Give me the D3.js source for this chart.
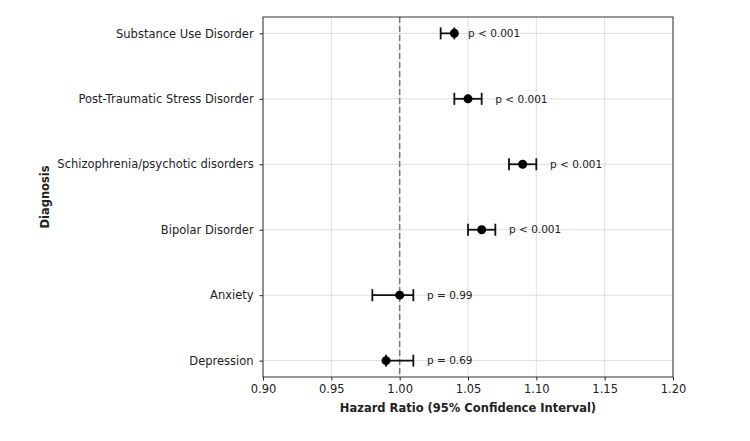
<!DOCTYPE html>
<html>
<head>
<meta charset="utf-8">
<script src="https://cdn.jsdelivr.net/npm/d3@7"></script>
<style>
  body { margin: 0; background: #fff; }
  text { font-family: "DejaVu Sans", sans-serif; fill: #222; }
</style>
</head>
<body>
<div id="chart"></div>
<script>
'use strict';

const diagnoses = ['Substance Use Disorder', 'Post-Traumatic Stress Disorder', 'Schizophrenia/psychotic disorders',
  'Bipolar Disorder', 'Anxiety', 'Depression'];
const hazard = [1.04, 1.05, 1.09, 1.06, 1.00, 0.99];
const lower = [1.03, 1.04, 1.08, 1.05, 0.98, 0.99];
const upper = [1.04, 1.06, 1.10, 1.07, 1.01, 1.01];
const pLabels = ['p < 0.001', 'p < 0.001', 'p < 0.001', 'p < 0.001', 'p = 0.99', 'p = 0.69'];
const xTicks = [0.90, 0.95, 1.00, 1.05, 1.10, 1.15, 1.20];

const width = 750, height = 441;
const margin = { top: 17, right: 77, bottom: 64, left: 263 };
const w = width - margin.left - margin.right;
const h = height - margin.top - margin.bottom;

const svg = d3.select('#chart').append('svg')
    .attr('width', width)
    .attr('height', height);

const g = svg.append('g').attr('transform', `translate(${margin.left},${margin.top})`);

const x = d3.scaleLinear().domain([0.9, 1.2]).range([0, w]);
const y = d3.scaleLinear().domain([-0.25, diagnoses.length - 0.75]).range([0, h]);

// grid
g.append('g').selectAll('line')
    .data(xTicks)
    .enter().append('line')
    .attr('x1', d => x(d)).attr('x2', d => x(d))
    .attr('y1', 0).attr('y2', h)
    .attr('stroke', '#d6d6d6').attr('stroke-width', 0.8);
g.append('g').selectAll('line')
    .data(diagnoses)
    .enter().append('line')
    .attr('x1', 0).attr('x2', w)
    .attr('y1', (d, i) => y(i)).attr('y2', (d, i) => y(i))
    .attr('stroke', '#d6d6d6').attr('stroke-width', 0.8);

// reference line
g.append('line')
    .attr('x1', x(1)).attr('x2', x(1))
    .attr('y1', 0).attr('y2', h)
    .attr('stroke', '#777').attr('stroke-width', 1.5)
    .attr('stroke-dasharray', '6,3');

// axes
const xAxis = g.append('g')
    .attr('transform', `translate(0,${h})`)
    .call(d3.axisBottom(x).tickValues(xTicks).tickFormat(d3.format('.2f')).tickSizeOuter(0).tickSize(3.5));
const yAxis = g.append('g')
    .call(d3.axisLeft(y).tickValues(d3.range(diagnoses.length)).tickFormat(i => diagnoses[i]).tickSizeOuter(0).tickSize(3.5));

[xAxis, yAxis].forEach(ax => {
    ax.select('.domain').remove();
    ax.selectAll('line').attr('stroke', '#222');
    ax.selectAll('text').style('font-size', '11.5px').attr('fill', '#222');
});
xAxis.selectAll('text').attr('dy', '0.85em');
yAxis.selectAll('text').attr('dx', '-0.25em');

g.append('rect')
    .attr('width', w).attr('height', h)
    .attr('fill', 'none').attr('stroke', '#333').attr('stroke-width', 1);

// error bars
const rows = g.append('g').selectAll('g')
    .data(diagnoses)
    .enter().append('g')
    .attr('transform', (d, i) => `translate(0,${y(i)})`);

rows.append('line')
    .attr('x1', (d, i) => x(lower[i])).attr('x2', (d, i) => x(upper[i]))
    .attr('stroke', '#111').attr('stroke-width', 1.8);
rows.append('line')
    .attr('x1', (d, i) => x(lower[i])).attr('x2', (d, i) => x(lower[i]))
    .attr('y1', -6).attr('y2', 6)
    .attr('stroke', '#111').attr('stroke-width', 1.8);
rows.append('line')
    .attr('x1', (d, i) => x(upper[i])).attr('x2', (d, i) => x(upper[i]))
    .attr('y1', -6).attr('y2', 6)
    .attr('stroke', '#111').attr('stroke-width', 1.8);
rows.append('circle')
    .attr('cx', (d, i) => x(hazard[i]))
    .attr('r', 4.5)
    .attr('fill', '#000');

rows.append('text')
    .attr('x', (d, i) => x(upper[i] + 0.01))
    .attr('dy', '0.35em')
    .style('font-size', '10.5px')
    .text((d, i) => pLabels[i]);

// labels
svg.append('text')
    .attr('x', margin.left + w / 2)
    .attr('y', 412)
    .attr('text-anchor', 'middle')
    .style('font-size', '11.5px')
    .style('font-weight', 'bold')
    .text('Hazard Ratio (95% Confidence Interval)');

svg.append('text')
    .attr('transform', `translate(49,${margin.top + h / 2}) rotate(-90)`)
    .attr('text-anchor', 'middle')
    .style('font-size', '11.5px')
    .style('font-weight', 'bold')
    .text('Diagnosis');
</script>
</body>
</html>
